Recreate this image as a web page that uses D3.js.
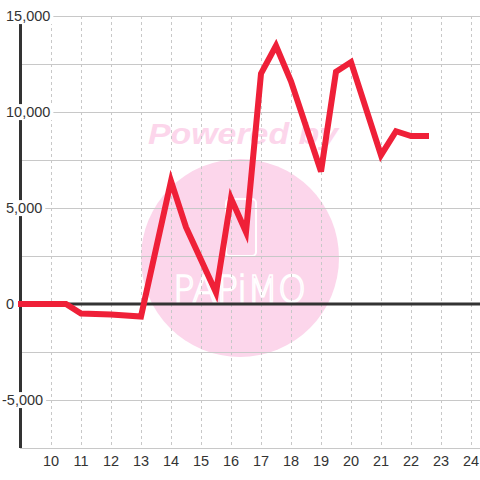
<!DOCTYPE html>
<html>
<head>
<meta charset="utf-8">
<script src="https://cdn.jsdelivr.net/npm/d3@7"></script>
<style>
html,body{margin:0;padding:0;background:#fff;}
svg{display:block;}
</style>
</head>
<body>
<svg id="chart" width="480" height="480"></svg>
<script>
// ---- data ----
const xValues = [9, 10.5, 11, 12, 13, 14, 14.5, 15, 15.5, 16, 16.5, 17, 17.5, 18, 19, 19.5, 20, 21, 21.5, 22, 22.5];
const yValues = [0, 0, -500, -550, -650, 6400, 4000, 2300, 600, 5500, 3750, 12000, 13450, 11600, 6900, 12100, 12600, 7750, 9000, 8750, 8750];
const xTicks = [10, 11, 12, 13, 14, 15, 16, 17, 18, 19, 20, 21, 22, 23, 24];
const yTickLabels = [15000, 10000, 5000, 0, -5000];
const yGrid = [15000, 12500, 10000, 7500, 5000, 2500, -2500, -5000, -7500];

const W = 480, H = 480;
const svg = d3.select("#chart");
const x = d3.scaleLinear().domain([9, 24]).range([21, 471]);
const y = d3.scaleLinear().domain([-7500, 15000]).range([448, 16]);
const font = "'Liberation Sans', Arial, sans-serif";
const txt = "#333";

// watermark
const wm = svg.append("g");
wm.append("circle").attr("cx", 240).attr("cy", 258).attr("r", 99).attr("fill", "#fcd6eb");
wm.append("text").attr("x", 148).attr("y", 144).attr("textLength", 190).attr("lengthAdjust", "spacingAndGlyphs")
  .attr("font-family", font).attr("font-weight", "bold").attr("font-style", "italic")
  .attr("font-size", 30).attr("fill", "#fcd6eb").text("Powered by");
wm.append("rect").attr("x", 226).attr("y", 199).attr("width", 30).attr("height", 57).attr("rx", 4)
  .attr("fill", "none").attr("stroke", "#fff").attr("stroke-width", 2);
wm.append("text").attr("x", 173).attr("y", 302).attr("textLength", 133).attr("lengthAdjust", "spacingAndGlyphs")
  .attr("font-family", "'DejaVu Sans', sans-serif").attr("font-weight", 200)
  .attr("font-size", 38).attr("fill", "none").attr("stroke", "#fff").attr("stroke-width", 1.6).text("PAPiMO");

// vertical dashed grid
svg.append("g").selectAll("line").data(xTicks).join("line")
  .attr("x1", d => x(d) + 0.5).attr("x2", d => x(d) + 0.5)
  .attr("y1", y(15000)).attr("y2", y(-7500))
  .attr("stroke", "#c8c8c8").attr("stroke-width", 1).attr("stroke-dasharray", "3,3");

// horizontal grid
svg.append("g").selectAll("line").data(yGrid).join("line")
  .attr("x1", 20).attr("x2", W)
  .attr("y1", d => Math.round(y(d)) + 0.5).attr("y2", d => Math.round(y(d)) + 0.5)
  .attr("stroke", "#c8c8c8").attr("stroke-width", 1);

// y axis line
svg.append("line").attr("x1", 20.5).attr("x2", 20.5).attr("y1", y(15000)).attr("y2", y(-7500))
  .attr("stroke", "#333").attr("stroke-width", 3);

// zero line
svg.append("line").attr("x1", 20).attr("x2", W).attr("y1", y(0)).attr("y2", y(0))
  .attr("stroke", "#333").attr("stroke-width", 3);

// y tick labels with white backgrounds
const yl = svg.append("g").selectAll("g").data(yTickLabels).join("g");
yl.each(function(d) {
  const g = d3.select(this);
  const t = g.append("text")
    .attr("x", d < 0 ? 2 : 6).attr("y", y(d)).attr("dy", "0.35em")
    .attr("font-family", font).attr("font-size", 14.5).attr("fill", txt)
    .text(d3.format(",")(d).replace("−", "-"));
  const bb = t.node().getBBox();
  g.insert("rect", "text").attr("x", bb.x - 1).attr("y", bb.y)
    .attr("width", bb.width + 4).attr("height", bb.height).attr("fill", "#fff");
});

// x tick labels
svg.append("g").selectAll("text").data(xTicks).join("text")
  .attr("x", d => x(d)).attr("y", 461).attr("dy", "0.35em").attr("text-anchor", "middle")
  .attr("font-family", font).attr("font-size", 14.5).attr("fill", txt).text(d => d);

// series line
const pts = xValues.map((v, i) => [v, yValues[i]]);
svg.append("path").datum(pts)
  .attr("d", d3.line().x(d => x(d[0])).y(d => y(d[1])))
  .attr("fill", "none").attr("stroke", "#ef2038").attr("stroke-width", 6)
  .attr("stroke-linecap", "square").attr("stroke-linejoin", "miter");
</script>
</body>
</html>
